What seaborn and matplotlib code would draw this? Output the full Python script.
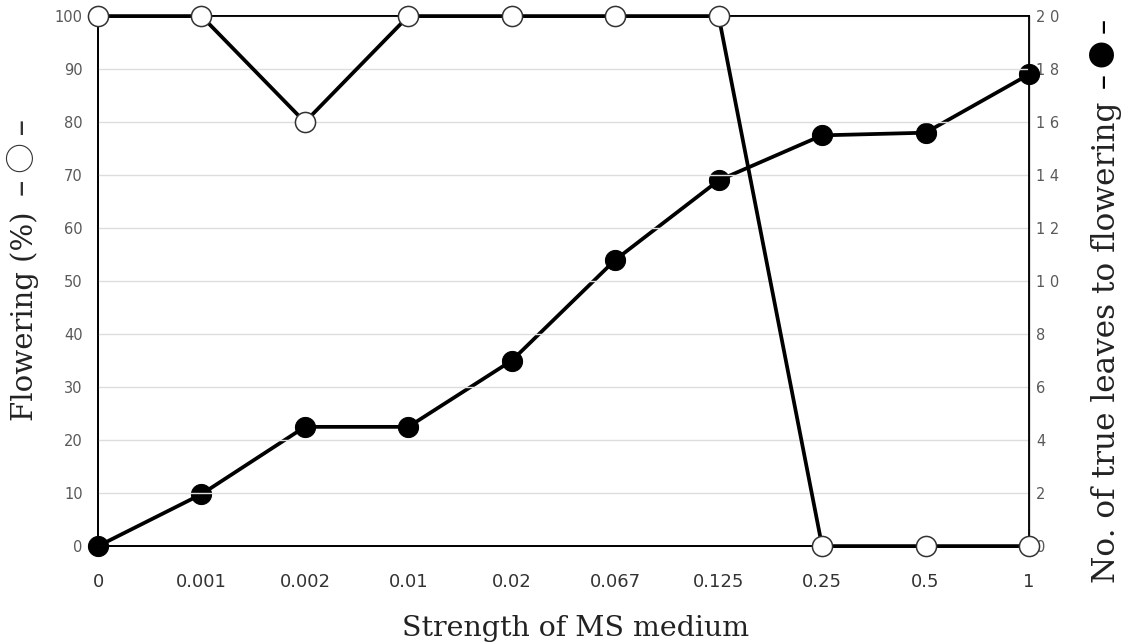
import pandas as pd
import numpy as np
import matplotlib.pyplot as plt
import seaborn as sns

strength = ['0', '0.001', '0.002', '0.01', '0.02', '0.067', '0.125', '0.25', '0.5', '1']
flowering = [100, 100, 80, 100, 100, 100, 100, 0, 0, 0]
leaves = [0, 1.96, 4.5, 4.5, 7.0, 10.8, 13.8, 15.5, 15.6, 17.8]
right_ticks = ['0', '2', '4', '6', '8', '1 0', '1 2', '1 4', '1 6', '1 8', '2 0']

df = pd.DataFrame({'strength': strength, 'flowering': flowering, 'leaves': leaves})

sns.set_style('white')
plt.rcParams['font.family'] = ['DejaVu Sans']

fig = plt.figure(figsize=(11.27, 6.44), dpi=100)
ax = fig.add_axes([0.087, 0.152, 0.826, 0.823])
ax2 = ax.twinx()

sns.lineplot(data=df, x='strength', y='leaves', ax=ax2, sort=False, color='black',
             lw=2.7, marker='o', markersize=14.5, markerfacecolor='black',
             markeredgecolor='black', clip_on=False, zorder=3)
sns.lineplot(data=df, x='strength', y='flowering', ax=ax, sort=False, color='black',
             lw=2.7, marker='o', markersize=14.5, markerfacecolor='white',
             markeredgecolor='#333333', markeredgewidth=1.1, clip_on=False, zorder=3)

ax.set_zorder(ax2.get_zorder() + 1)
ax.patch.set_visible(False)

ax.set_xlim(0, 9)
ax.set_ylim(0, 100)
ax2.set_ylim(0, 20)
ax.set_yticks(np.arange(0, 101, 10))
ax2.set_yticks(np.arange(0, 21, 2))
ax2.set_yticklabels(right_ticks)
ax.yaxis.grid(True, color='#dddddd', lw=1)
ax.set_axisbelow(True)

ax.tick_params(axis='y', labelsize=10.5, labelcolor='#595959', length=0, pad=11)
ax2.tick_params(axis='y', labelsize=10.5, labelcolor='#595959', length=0, pad=5)
ax.tick_params(axis='x', labelsize=13, labelcolor='#333333', length=0, pad=19)

for a in (ax, ax2):
    for s in a.spines.values():
        s.set_color('black')
        s.set_linewidth(1.3)
ax2.spines['right'].set_color('#666666')
ax2.spines['right'].set_linewidth(1.0)

ax.set_xlabel('')
ax.set_ylabel('')
ax2.set_ylabel('')

W, H = 1127, 644
serif = 'DejaVu Serif'
sym = ['Noto Sans CJK JP', 'DejaVu Sans']
fig.text(576 / W, 1 - 628 / H, 'Strength of MS medium', family=serif, fontsize=20.5,
         ha='center', va='center', color='#222222')
fig.text(25 / W, 1 - 316 / H, 'Flowering (%)', family=serif, fontsize=21,
         ha='center', va='center', rotation=90, color='#222222')
fig.text(24 / W, 1 - 158 / H, '\u2013 \u25cb \u2013', family=sym, fontsize=22,
         ha='center', va='center', rotation=90, color='#333333')
fig.text(1106 / W, 1 - 342 / H, 'No. of true leaves to flowering', family=serif,
         fontsize=22.5, ha='center', va='center', rotation=90, color='#222222')
fig.text(1105 / W, 1 - 54 / H, '\u2013 \u25cf \u2013', family=sym, fontsize=20,
         ha='center', va='center', rotation=90, color='black')

plt.savefig('out.png', dpi=100)
